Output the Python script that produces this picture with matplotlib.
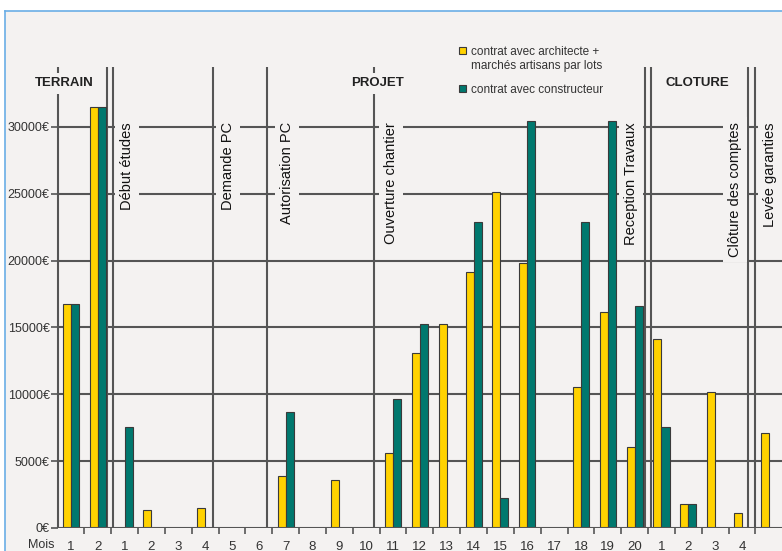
import matplotlib.pyplot as plt
import numpy as np
from matplotlib.lines import Line2D
from matplotlib.patches import Rectangle

plt.rcParams['font.family'] = ['Liberation Sans', 'DejaVu Sans']

# months shown on the x axis, section by section
terrain_months = ['1', '2']
projet_months = [str(m) for m in range(1, 21)]
cloture_months = ['1', '2', '3', '4', '']
month_labels = terrain_months + projet_months + cloture_months

# monthly spend (euros)
architecte = [16750, 31500,
              0, 1350, 0, 1500, 0, 0, 3900, 0, 3600, 0,
              5600, 13100, 15250, 19150, 25100, 19800, 0, 10550, 16150, 6050,
              14150, 1800, 10150, 1100, 7100]
constructeur = [16750, 31500,
                7550, 0, 0, 0, 0, 0, 8700, 0, 0, 0,
                9650, 15250, 0, 22900, 2250, 30450, 0, 22900, 30450, 16600,
                7550, 1800, 0, 0, 0]

yticks = [0, 5000, 10000, 15000, 20000, 25000, 30000]
sections = ['TERRAIN', 'PROJET', 'CLOTURE']
milestones = ['Début études', 'Demande PC', 'Autorisation PC', 'Ouverture chantier',
              'Reception Travaux', 'Clôture des comptes', 'Levée garanties']
legend_labels = ['contrat avec architecte +\nmarchés artisans par lots',
                 'contrat avec constructeur']

# layout
bg = '#f4f2f1'
yellow = '#ffd200'
teal = '#00786e'
line_col = '#555555'
section_x = [-0.26, 11.44, 23.32]
milestone_x = [2.09, 5.85, 8.05, 11.92, 20.86, 24.74, 26.04]
vline_x = [1.34, 1.56, 5.29, 7.30, 11.29, 21.39, 21.61, 25.22, 25.48]
line_top = 34480

W, H = 782, 551
fig = plt.figure(figsize=(W / 100, H / 100), dpi=100, facecolor='white')
fig.patches.append(Rectangle((5 / W, 0), 1, (H - 11) / H, transform=fig.transFigure,
                             facecolor=bg, edgecolor='none', zorder=-10))
fig.lines.append(Line2D([5 / W, 1], [(H - 11) / H] * 2, transform=fig.transFigure,
                        color='#6aaee6', lw=1.2, zorder=-5))
fig.lines.append(Line2D([5 / W] * 2, [0, (H - 11) / H], transform=fig.transFigure,
                        color='#6aaee6', lw=1.2, zorder=-5))

ax = fig.add_axes([58 / W, 23 / H, 1 - 58 / W, (528 - 40) / H])
ax.set_facecolor('none')
for s in ax.spines.values():
    s.set_visible(False)

x = np.arange(len(month_labels))
w = 0.3
ax.set_xlim(-0.48, 26.49)
ax.set_ylim(0, 36500)

# grid
ax.hlines(yticks[1:], -0.48, 26.49, color=line_col, lw=1.5, zorder=1)
ax.hlines(0, -0.48, 26.49, color=line_col, lw=1.5, zorder=5)
ax.vlines(vline_x, 0, line_top, color=line_col, lw=1.5, zorder=2)
ax.vlines(-0.48, 0, line_top, color=line_col, lw=1.5, zorder=2, clip_on=False)

arch = np.array(architecte)
cons = np.array(constructeur)
ax.bar(x[arch > 0] - w / 2, arch[arch > 0], w, color=yellow, edgecolor='#3a3a3a', lw=0.8, zorder=3)
ax.bar(x[cons > 0] + w / 2, cons[cons > 0], w, color=teal, edgecolor='#3a3a3a', lw=0.8, zorder=3)

# ticks
ax.set_yticks(yticks)
ax.set_yticklabels([f'{v}€' for v in yticks], fontsize=9, color='#333333')
ax.tick_params(axis='y', length=5, width=1.2, color=line_col, pad=1)
ax.set_xticks(np.arange(len(month_labels) - 1) + 0.5)
ax.set_xticklabels([])
ax.set_xticks(x, minor=True)
ax.set_xticklabels(month_labels, minor=True, fontsize=9.5, color='#333333')
ax.tick_params(axis='x', which='major', length=4, width=1.2, color=line_col)
ax.tick_params(axis='x', which='minor', length=0, pad=9)
ax.text(-0.6, -1250, 'Mois', ha='right', va='center', fontsize=9, color='#333333')

box = dict(boxstyle='square,pad=0.35', fc=bg, ec='none')
for name, sx in zip(sections, section_x):
    ax.text(sx, 33250, name, ha='center', va='center', fontsize=9.5, fontweight='bold',
            color='#222222', bbox=box, zorder=6, clip_on=False)
for name, mx in zip(milestones, milestone_x):
    ax.text(mx, 30350, name, rotation=90, ha='center', va='top', fontsize=10.5,
            color='#111111', bbox=box, zorder=6, clip_on=True)

# legend
for lab, col, ly in zip(legend_labels, [yellow, teal], [35750, 32900]):
    ax.add_patch(Rectangle((14.47, ly - 300), 0.26, 560, facecolor=col,
                           edgecolor='#3a3a3a', lw=0.8, zorder=6, clip_on=False))
    ax.text(14.9, ly + 300, lab, ha='left', va='top', fontsize=8.5, color='#333333',
            linespacing=1.25, zorder=6, clip_on=False)

fig.savefig('out.png', dpi=100, facecolor=fig.get_facecolor())
